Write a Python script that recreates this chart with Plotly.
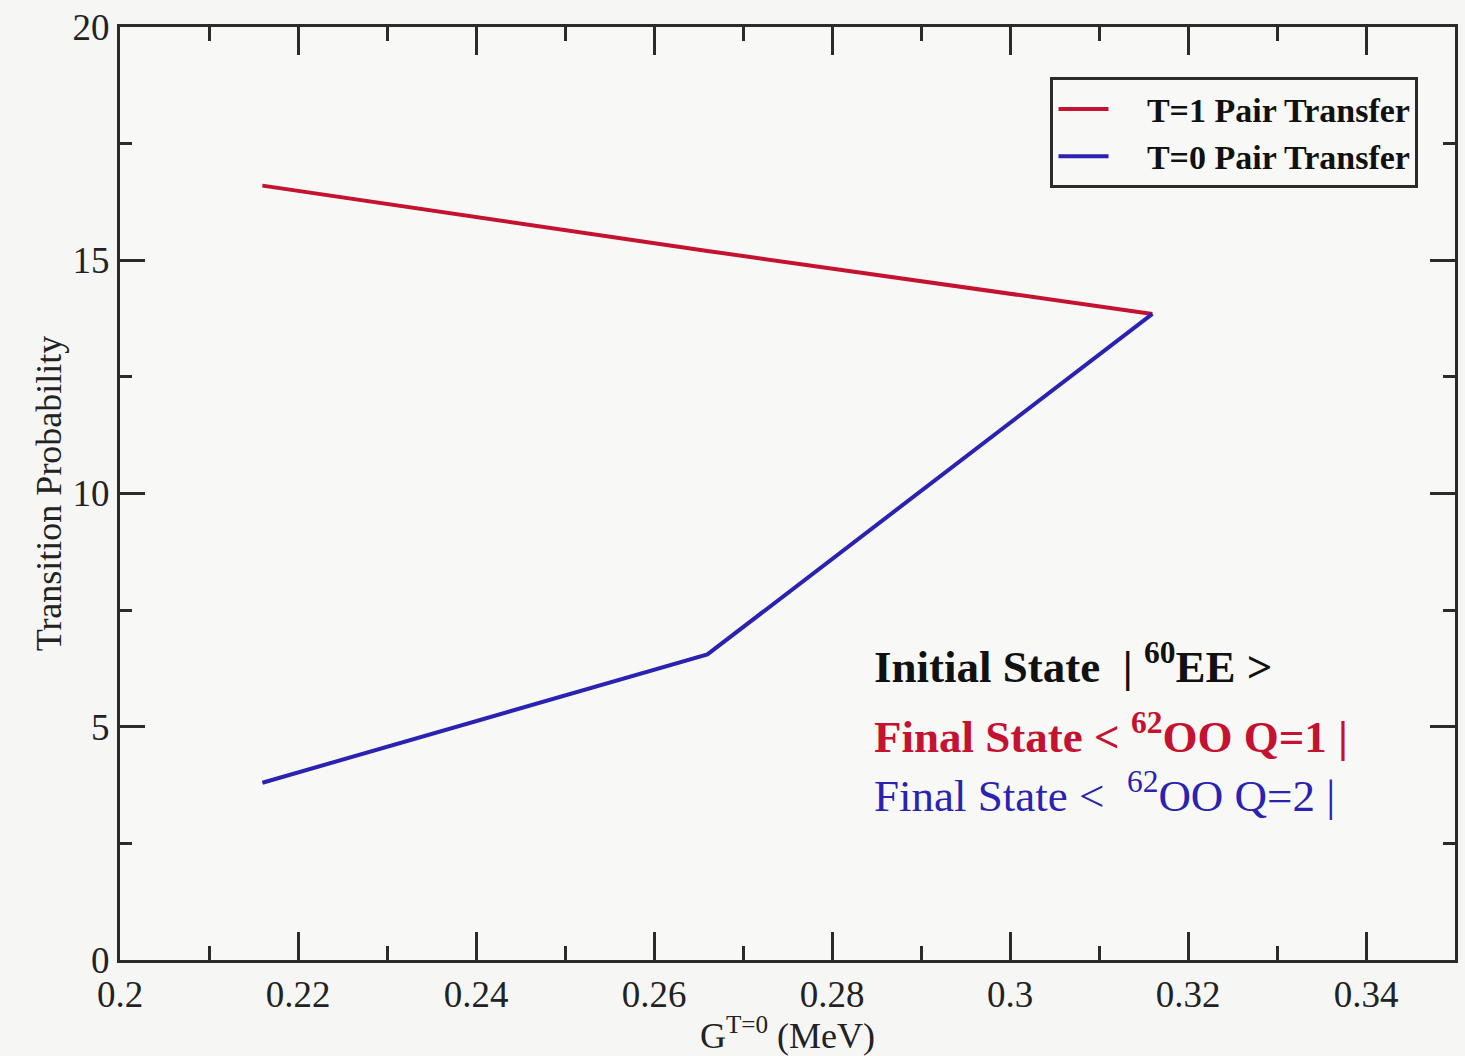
import plotly.graph_objects as go

# Pairing strength G^{T=0} (MeV)
g_t0 = [0.216, 0.266, 0.316]

# Transition probabilities for the two transfer channels
t1_pair_transfer = [16.6, 15.2, 13.85]
t0_pair_transfer = [3.8, 6.55, 13.85]

x_ticks = [0.2, 0.22, 0.24, 0.26, 0.28, 0.3, 0.32, 0.34]
x_tick_labels = ["0.2", "0.22", "0.24", "0.26", "0.28", "0.3", "0.32", "0.34"]
y_ticks = [0, 5, 10, 15, 20]
y_tick_labels = ["0", "5", "10", "15", "20"]

RED = "#c41230"
BLUE = "#2a22b0"
AXIS = "#2b2b2b"
FONT = "Liberation Serif"

fig = go.Figure()
fig.add_trace(go.Scatter(x=g_t0, y=t1_pair_transfer, mode="lines",
                         name="    T=1 Pair Transfer",
                         line=dict(color=RED, width=4)))
fig.add_trace(go.Scatter(x=g_t0, y=t0_pair_transfer, mode="lines",
                         name="    T=0 Pair Transfer",
                         line=dict(color=BLUE, width=4)))

axis_common = dict(
    showline=True, linecolor=AXIS, linewidth=3, mirror="ticks",
    ticks="inside", tickcolor=AXIS, tickwidth=3,
    showgrid=False, zeroline=False,
    tickfont=dict(family=FONT, size=37, color="#222"),
)

fig.update_xaxes(
    range=[0.2, 0.35], tickvals=x_ticks, ticktext=x_tick_labels, ticklen=28,
    minor=dict(dtick=0.01, tick0=0.2, ticks="inside", ticklen=14,
               tickwidth=3, tickcolor=AXIS, showgrid=False),
    title=dict(text="G<sup>T=0</sup> (MeV)", font=dict(family=FONT, size=36, color="#222"),
               standoff=2),
    **axis_common,
)
fig.update_yaxes(
    range=[0, 20.0001], tickvals=y_ticks, ticktext=y_tick_labels, ticklen=25,
    minor=dict(dtick=2.5, tick0=0, ticks="inside", ticklen=12,
               tickwidth=3, tickcolor=AXIS, showgrid=False),
    title=dict(text="Transition Probability", font=dict(family=FONT, size=36, color="#222"),
               standoff=0),
    **axis_common,
)

# State labels inside the plot
labels = [
    ("Initial State  | <sup>60</sup>EE >", "#111", 6.35, True),
    ("Final State < <sup>62</sup>OO Q=1 |", RED, 4.85, True),
    ("Final State <  <sup>62</sup>OO Q=2 |", BLUE, 3.6, False),
]
for text, color, yv, bold in labels:
    fig.add_annotation(
        x=0.2845, y=yv, xref="x", yref="y", xanchor="left", yanchor="middle",
        text=f"<b>{text}</b>" if bold else text, showarrow=False,
        font=dict(family=FONT, size=45, color=color),
    )

fig.update_layout(
    width=1465, height=1056,
    margin=dict(l=120, r=7, t=22, b=96),
    paper_bgcolor="#f6f7f5", plot_bgcolor="#f8f9f7",
    showlegend=True,
    legend=dict(
        x=0.697, y=0.946, xanchor="left", yanchor="top",
        bgcolor="#f8f9f7", bordercolor=AXIS, borderwidth=3,
        font=dict(family=FONT, size=34, color="#111", weight="bold"),
        itemwidth=50, tracegroupgap=0,
    ),
)

fig.write_html("out.html")
